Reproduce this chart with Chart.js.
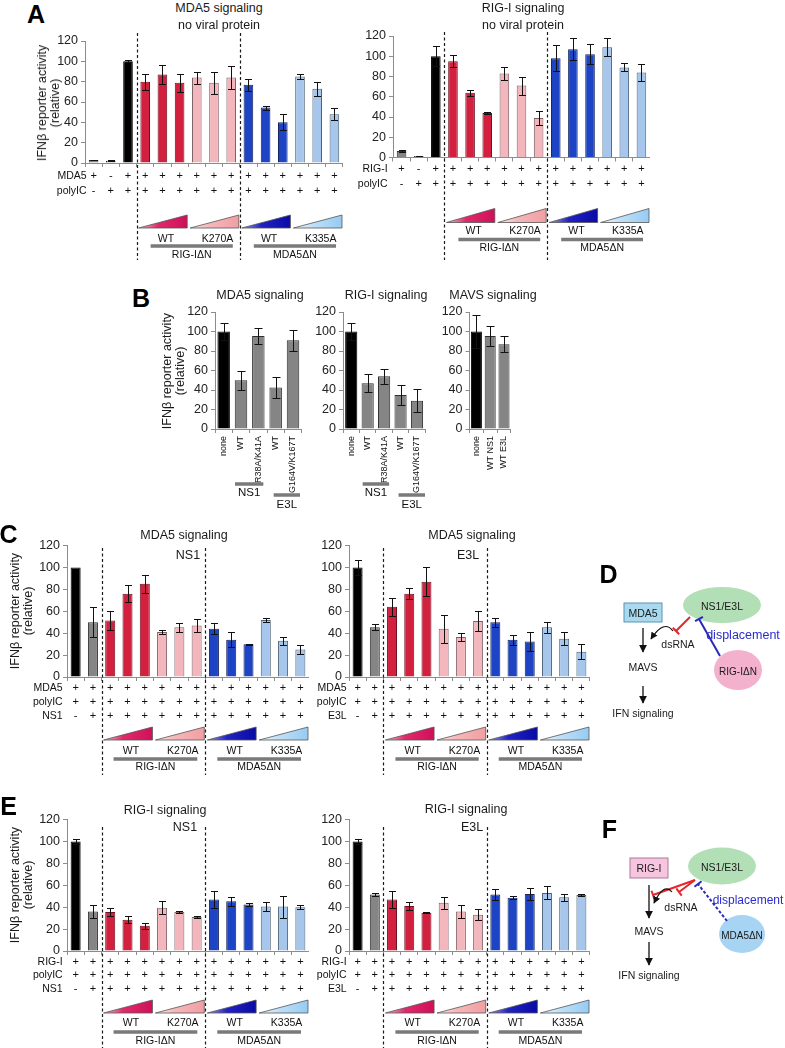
<!DOCTYPE html>
<html><head><meta charset="utf-8">
<script src="https://cdn.jsdelivr.net/npm/chart.js@4.4.1/dist/chart.umd.min.js"></script>
<style>
html,body{margin:0;padding:0;background:#fff;}
#fig{position:relative;width:785px;height:1048px;overflow:hidden;font-family:'Liberation Sans',Arial,sans-serif;color:#1a1a1a;}
#fig canvas{position:absolute;}
.tx{position:absolute;white-space:nowrap;transform:translate(-50%,-50%);line-height:1;font-size:12.5px;}
.yt{position:absolute;white-space:nowrap;transform:translate(-50%,-50%) rotate(-90deg);text-align:center;font-size:12.5px;line-height:13px;}
.pl{font-weight:bold;font-size:25px;color:#000;}
</style></head><body><div id="fig"></div>
<script>
// ---------------- DATA ----------------
const yTickValues = [0, 20, 40, 60, 80, 100, 120];

// Panel A, MDA5 signaling, no viral protein
const A1_rowNames = ['MDA5', 'polyIC'];
const A1_MDA5   = ['+','-','+','+','+','+','+','+','+','+','+','+','+','+','+'];
const A1_polyIC = ['-','+','+','+','+','+','+','+','+','+','+','+','+','+','+'];
const A1_values = [3, 2.3, 100, 80, 87, 79, 84, 79, 84, 77, 54.5, 40, 85, 73, 48];
const A1_errors = [0.4, 0.4, 1, 8, 9, 9, 6, 11, 11, 6, 2, 8, 2.5, 7, 6];

// Panel A, RIG-I signaling, no viral protein
const A2_rowNames = ['RIG-I', 'polyIC'];
const A2_RIGI   = ['+','-','+','+','+','+','+','+','+','+','+','+','+','+','+'];
const A2_polyIC = ['-','+','+','+','+','+','+','+','+','+','+','+','+','+','+'];
const A2_values = [6.5, 1.5, 100, 95, 64, 44, 83, 71, 39, 98, 107, 102, 109, 89, 84];
const A2_errors = [1, 0.3, 10, 6, 3, 1, 6, 9, 7, 13, 11, 10, 9, 4, 8];

// Panel B
const B1_categories = ['none', 'WT', 'R38A/K41A', 'WT', 'G164V/K167T'];
const B1_values = [100, 50, 95.5, 42.5, 91];
const B1_errors = [9, 10, 8.5, 11, 11];
const B2_categories = ['none', 'WT', 'R38A/K41A', 'WT', 'G164V/K167T'];
const B2_values = [100, 47, 54, 35, 29];
const B2_errors = [9, 9.5, 8, 10, 12];
const B3_categories = ['none', 'WT NS1', 'WT E3L'];
const B3_values = [100, 95.5, 87];
const B3_errors = [16.5, 10.5, 8];

// Panel C, MDA5 signaling + NS1
const C1_rowNames = ['MDA5', 'polyIC', 'NS1'];
const C1_MDA5   = ['+','+','+','+','+','+','+','+','+','+','+','+','+','+'];
const C1_polyIC = ['+','+','+','+','+','+','+','+','+','+','+','+','+','+'];
const C1_NS1    = ['-','+','+','+','+','+','+','+','+','+','+','+','+','+'];
const C1_values = [100, 50, 51.5, 76, 85, 41, 45.5, 47, 44, 34, 30, 52, 33, 25];
const C1_errors = [0, 13.5, 8.5, 8, 8, 2, 4, 6, 5, 7, 0.5, 1.5, 3.5, 4];

// Panel C, MDA5 signaling + E3L
const C2_rowNames = ['MDA5', 'polyIC', 'E3L'];
const C2_MDA5   = ['+','+','+','+','+','+','+','+','+','+','+','+','+','+'];
const C2_polyIC = ['+','+','+','+','+','+','+','+','+','+','+','+','+','+'];
const C2_E3L    = ['-','+','+','+','+','+','+','+','+','+','+','+','+','+'];
const C2_values = [100, 45.5, 64, 76, 87, 44, 36.5, 51, 50, 34, 32.5, 45.5, 35, 23];
const C2_errors = [7, 3, 8, 5, 13, 13, 4, 9, 4, 4.5, 9, 5, 6, 7];

// Panel E, RIG-I signaling + NS1
const E1_rowNames = ['RIG-I', 'polyIC', 'NS1'];
const E1_RIGI   = ['+','+','+','+','+','+','+','+','+','+','+','+','+','+'];
const E1_polyIC = ['+','+','+','+','+','+','+','+','+','+','+','+','+','+'];
const E1_NS1    = ['-','+','+','+','+','+','+','+','+','+','+','+','+','+'];
const E1_values = [100, 36, 35.5, 28.5, 23, 39.5, 35.5, 31, 47, 45.5, 42.5, 40.5, 40.5, 40];
const E1_errors = [2, 6, 4, 3, 3, 6, 1, 0.5, 8, 4, 1.5, 4, 10, 2];

// Panel E, RIG-I signaling + E3L
const E2_rowNames = ['RIG-I', 'polyIC', 'E3L'];
const E2_RIGI   = ['+','+','+','+','+','+','+','+','+','+','+','+','+','+'];
const E2_polyIC = ['+','+','+','+','+','+','+','+','+','+','+','+','+','+'];
const E2_E3L    = ['-','+','+','+','+','+','+','+','+','+','+','+','+','+'];
const E2_values = [100, 51.5, 47, 41, 35, 44, 36, 33, 51.5, 48.5, 52, 53, 49, 51];
const E2_errors = [2, 1, 7.5, 4, 0.5, 5.5, 6, 5, 5, 1.5, 5.5, 6, 3, 0.6];

// group labels under the titration panels
const groupSub = ['WT', 'K270A', 'WT', 'K335A'];
const groupBig = ['RIG-I\u0394N', 'MDA5\u0394N'];

// ---------------- STYLE ----------------
const FONT = "'Liberation Sans', Arial, sans-serif";
Chart.defaults.font.family = FONT;
const AXIS = '#8c8c8c';
const FILL = {gray:'#858585', black:'#000000', red:'#d3203f', pink:'#f4b6bd', blue:'#1c44c4', lblue:'#a6c6ec'};
const EDGE = {gray:'#2e2e2e', black:'#000000', red:'#6e1222', pink:'#7d6266', blue:'#14245e', lblue:'#4d6177'};
const TRI = {
  red:  ['#f6b9cb', '#e02a6a', '#d0105a'],
  pink: ['#fde6e6', '#f6b7b9', '#f19ea2'],
  blue: ['#9a9ae6', '#2222c4', '#0a0aa6'],
  lblue:['#eef7fe', '#bfe0f8', '#96cbf3']
};
const seqA = ['gray','gray','black','red','red','red','pink','pink','pink','blue','blue','blue','lblue','lblue','lblue'];
const seqC = ['black','gray','red','red','red','pink','pink','pink','blue','blue','blue','lblue','lblue','lblue'];
const zip = rows => rows[0].map((_, i) => rows.map(r => r[i]));

const fig = document.getElementById('fig');

function txt(x, y, s, size, extra) {
  const d = document.createElement('div');
  d.className = 'tx' + (extra ? ' ' + extra : '');
  d.style.left = x + 'px'; d.style.top = y + 'px';
  if (size) d.style.fontSize = size + 'px';
  d.textContent = s;
  fig.appendChild(d);
}
function ytitle(x, y) {
  const d = document.createElement('div');
  d.className = 'yt';
  d.style.left = x + 'px'; d.style.top = y + 'px';
  d.innerHTML = 'IFN\u03b2 reporter activity<br>(relative)';
  fig.appendChild(d);
}

function makeChart(o) {
  const cv = document.createElement('canvas');
  cv.width = o.w; cv.height = o.h;
  cv.style.left = o.x + 'px'; cv.style.top = o.y + 'px';
  cv.style.width = o.w + 'px'; cv.style.height = o.h + 'px';
  fig.appendChild(cv);
  const n = o.values.length;
  const deco = {
    id: 'deco',
    afterDatasetsDraw(ch) {
      const ctx = ch.ctx, ys = ch.scales.y, meta = ch.getDatasetMeta(0);
      ctx.save(); ctx.strokeStyle = '#111'; ctx.lineWidth = 1;
      o.errors.forEach((e, i) => {
        if (!e) return;
        const x = Math.round(meta.data[i].x) + 0.5, v = o.values[i];
        const t = Math.round(ys.getPixelForValue(v + e)) + 0.5, b = Math.round(ys.getPixelForValue(v - e)) + 0.5;
        ctx.beginPath();
        ctx.moveTo(x, t); ctx.lineTo(x, b);
        ctx.moveTo(x - o.cap, t); ctx.lineTo(x + o.cap, t);
        ctx.moveTo(x - o.cap, b); ctx.lineTo(x + o.cap, b);
        ctx.stroke();
      });
      ctx.restore();
    },
    afterDraw(ch) {
      const ctx = ch.ctx, xs = ch.scales.x, B = ch.chartArea.bottom;
      const cw = (xs.right - xs.left) / n;
      const cx = i => xs.getPixelForValue(i);
      const eL = i => cx(i) - cw / 2, eR = i => cx(i) + cw / 2;
      ctx.save();
      ctx.fillStyle = '#111'; ctx.textBaseline = 'middle';
      if (o.rowNames) {
        ctx.font = '10.5px ' + FONT; ctx.textAlign = 'right';
        o.rowNames.forEach((nm, k) => ctx.fillText(nm, cx(0) - o.nameGap, B + 4 + o.tpad + o.lh * (k + 0.5)));
      }
      if (o.dashAfter) {
        ctx.save(); ctx.strokeStyle = '#1a1a1a'; ctx.lineWidth = 1.2; ctx.setLineDash([3, 2.5]);
        o.dashAfter.forEach(i => {
          const x = Math.round(eR(i)) + 0.5;
          ctx.beginPath(); ctx.moveTo(x, o.dashTop); ctx.lineTo(x, ch.height); ctx.stroke();
        });
        ctx.restore();
      }
      if (o.tris) {
        o.tris.forEach((t, k) => {
          const x1 = eL(t.from) + 2, x2 = eR(t.to) - 1, yt = B + o.triT, yb = B + o.triB;
          const g = ctx.createLinearGradient(x1, 0, x2, 0);
          const c = TRI[t.c];
          g.addColorStop(0, c[0]); g.addColorStop(0.4, c[1]); g.addColorStop(1, c[2]);
          ctx.beginPath(); ctx.moveTo(x1, yb); ctx.lineTo(x2, yt); ctx.lineTo(x2, yb); ctx.closePath();
          ctx.fillStyle = g; ctx.fill();
          ctx.strokeStyle = '#555'; ctx.lineWidth = 0.8; ctx.stroke();
          ctx.fillStyle = '#111'; ctx.font = '10.5px ' + FONT; ctx.textAlign = 'center';
          ctx.fillText(groupSub[k], (x1 + x2) / 2 + 3, B + o.subY);
        });
      }
      if (o.bigs) {
        o.bigs.forEach((g, k) => {
          const x1 = eL(g.from) + o.barL, x2 = eR(g.to) - o.barR;
          ctx.fillStyle = '#7a7a7a'; ctx.fillRect(x1, B + o.barY - 1.75, x2 - x1, 3.5);
          ctx.fillStyle = '#111'; ctx.font = '10.5px ' + FONT; ctx.textAlign = 'center';
          ctx.fillText(groupBig[k], (x1 + x2) / 2, B + o.bigY);
        });
      }
      if (o.subBars) {
        o.subBars.forEach(g => {
          const x1 = cx(g.from) + g.l, x2 = cx(g.to) + g.r;
          ctx.fillStyle = '#7a7a7a'; ctx.fillRect(x1, B + g.bar - 1.75, x2 - x1, 3.5);
          ctx.fillStyle = '#111'; ctx.font = '11.5px ' + FONT; ctx.textAlign = 'center';
          ctx.fillText(g.t, (x1 + x2) / 2, B + g.ty);
        });
      }
      ctx.restore();
    }
  };
  new Chart(cv, {
    type: 'bar',
    data: {
      labels: o.labels,
      datasets: [{
        data: o.values,
        backgroundColor: o.seq.map(k => FILL[k]),
        borderColor: o.seq.map(k => EDGE[k]),
        borderWidth: 1,
        barPercentage: o.bp,
        categoryPercentage: 1
      }]
    },
    options: {
      responsive: false, maintainAspectRatio: false, animation: false, devicePixelRatio: 1, events: [],
      layout: {padding: {top: o.padTop, left: 0, right: 0, bottom: 0}},
      plugins: {legend: {display: false}, tooltip: {enabled: false}},
      scales: {
        x: {
          offset: true,
          grid: {display: true, drawOnChartArea: false, drawTicks: true, tickLength: 4, color: AXIS, offset: true},
          border: {display: true, color: AXIS, width: 1},
          ticks: {autoSkip: false, minRotation: o.rot, maxRotation: o.rot, padding: o.tpad, color: '#111',
                  font: {size: o.fs, lineHeight: o.lh + 'px'}},
          afterFit: s => { s.height = o.xh; }
        },
        y: {
          min: yTickValues[0], max: yTickValues[yTickValues.length - 1],
          afterBuildTicks: s => { s.ticks = yTickValues.map(v => ({value: v})); },
          grid: {display: true, drawOnChartArea: false, tickLength: 4, color: AXIS},
          border: {display: true, color: AXIS, width: 1},
          ticks: {padding: 3, color: '#222', font: {size: 12.5}},
          afterFit: s => { s.width = o.yw; }
        }
      }
    },
    plugins: [deco]
  });
}

const trisA = [{from:3,to:5,c:'red'},{from:6,to:8,c:'pink'},{from:9,to:11,c:'blue'},{from:12,to:14,c:'lblue'}];
const bigsA = [{from:3,to:8},{from:9,to:14}];
const trisC = [{from:2,to:4,c:'red'},{from:5,to:7,c:'pink'},{from:8,to:10,c:'blue'},{from:11,to:13,c:'lblue'}];
const bigsC = [{from:2,to:7},{from:8,to:13}];

// Panel A
makeChart({x:0, y:30, w:343, h:230, yw:85, padTop:11, xh:97, labels:zip([A1_MDA5, A1_polyIC]), values:A1_values, errors:A1_errors,
  seq:seqA, bp:0.56, rot:0, fs:11, lh:15, tpad:1.5, rowNames:A1_rowNames, nameGap:7, cap:3.5,
  dashAfter:[2,8], dashTop:3, tris:trisA, triT:52, triB:65, subY:76, bigs:bigsA, barL:14, barR:7, barY:83, bigY:92});
makeChart({x:350, y:25, w:300, h:235, yw:43, padTop:11, xh:102.5, labels:zip([A2_RIGI, A2_polyIC]), values:A2_values, errors:A2_errors,
  seq:seqA, bp:0.56, rot:0, fs:11, lh:15, tpad:0, rowNames:A2_rowNames, nameGap:14, cap:3.5,
  dashAfter:[2,8], dashTop:7, tris:trisA, triT:51, triB:65, subY:74, bigs:bigsA, barL:14, barR:7, barY:82, bigY:91});

// Panel B
makeChart({x:170, y:300, w:137, h:215, yw:45, padTop:12, xh:86, labels:B1_categories, values:B1_values, errors:B1_errors,
  seq:['black','gray','gray','gray','gray'], bp:0.72, rot:90, fs:9, lh:11, tpad:3, cap:4,
  subBars:[{from:1,to:2,l:-6,r:5,bar:55,ty:64,t:'NS1'},{from:3,to:4,l:-2,r:7,bar:66,ty:76,t:'E3L'}]});
makeChart({x:310, y:300, w:121, h:215, yw:33, padTop:12, xh:86, labels:B2_categories, values:B2_values, errors:B2_errors,
  seq:['black','gray','gray','gray','gray'], bp:0.74, rot:90, fs:9, lh:11, tpad:3, cap:4,
  subBars:[{from:1,to:2,l:-5,r:5,bar:55,ty:64,t:'NS1'},{from:3,to:4,l:-2,r:8,bar:66,ty:76,t:'E3L'}]});
makeChart({x:435, y:300, w:83, h:215, yw:34.5, padTop:12, xh:86, labels:B3_categories, values:B3_values, errors:B3_errors,
  seq:['black','gray','gray'], bp:0.8, rot:90, fs:9, lh:11, tpad:3, cap:4});

// Panel C
makeChart({x:0, y:535, w:309, h:240, yw:67, padTop:10, xh:98, labels:zip([C1_MDA5, C1_polyIC, C1_NS1]), values:C1_values, errors:C1_errors,
  seq:seqC, bp:0.58, rot:0, fs:11, lh:14, tpad:0, rowNames:C1_rowNames, nameGap:13, cap:3.5,
  dashAfter:[1,7], dashTop:13, tris:trisC, triT:50, triB:63, subY:74, bigs:bigsC, barL:12, barR:8, barY:82, bigY:90});
makeChart({x:300, y:535, w:290, h:240, yw:49, padTop:10, xh:98, labels:zip([C2_MDA5, C2_polyIC, C2_E3L]), values:C2_values, errors:C2_errors,
  seq:seqC, bp:0.58, rot:0, fs:11, lh:14, tpad:0, rowNames:C2_rowNames, nameGap:11, cap:3.5,
  dashAfter:[1,7], dashTop:13, tris:trisC, triT:50, triB:63, subY:74, bigs:bigsC, barL:12, barR:8, barY:82, bigY:90});

// Panel E
makeChart({x:0, y:809, w:309, h:239, yw:67, padTop:10, xh:97, labels:zip([E1_RIGI, E1_polyIC, E1_NS1]), values:E1_values, errors:E1_errors,
  seq:seqC, bp:0.58, rot:0, fs:11, lh:13.5, tpad:0, rowNames:E1_rowNames, nameGap:13, cap:3.5,
  dashAfter:[1,7], dashTop:18, tris:trisC, triT:49, triB:62, subY:72, bigs:bigsC, barL:12, barR:8, barY:81, bigY:90});
makeChart({x:300, y:809, w:290, h:239, yw:49, padTop:10, xh:97, labels:zip([E2_RIGI, E2_polyIC, E2_E3L]), values:E2_values, errors:E2_errors,
  seq:seqC, bp:0.58, rot:0, fs:11, lh:13.5, tpad:0, rowNames:E2_rowNames, nameGap:11, cap:3.5,
  dashAfter:[1,7], dashTop:18, tris:trisC, triT:49, triB:62, subY:72, bigs:bigsC, barL:12, barR:8, barY:81, bigY:90});

// Titles, letters, axis titles
txt(36, 13.5, 'A', 25, 'pl'); txt(141, 297.5, 'B', 25, 'pl'); txt(8.5, 534, 'C', 25, 'pl');
txt(608.5, 574, 'D', 25, 'pl'); txt(8.5, 806, 'E', 25, 'pl'); txt(609.5, 828.5, 'F', 25, 'pl');
txt(219, 8, 'MDA5 signaling'); txt(219, 25, 'no viral protein');
txt(523, 8, 'RIG-I signaling'); txt(523, 25, 'no viral protein');
txt(260, 295, 'MDA5 signaling'); txt(386, 295, 'RIG-I signaling'); txt(493, 295, 'MAVS signaling');
txt(184, 535, 'MDA5 signaling'); txt(188, 555, 'NS1');
txt(472, 535, 'MDA5 signaling'); txt(468, 555, 'E3L');
txt(165, 810, 'RIG-I signaling'); txt(185, 827, 'NS1');
txt(466, 809, 'RIG-I signaling'); txt(472, 827, 'E3L');
ytitle(49, 103); ytitle(174, 371); ytitle(22, 611); ytitle(22, 885);

// Diagrams D and F
function tee(x1, y1, x2, y2, col, dash) {
  const dx = x2 - x1, dy = y2 - y1, L = Math.hypot(dx, dy), px = -dy / L * 4.5, py = dx / L * 4.5;
  return `<line x1="${x1}" y1="${y1}" x2="${x2}" y2="${y2}" stroke="${col}" stroke-width="2" ${dash ? 'stroke-dasharray="3,2"' : ''}/>` +
         `<line x1="${x2 + px}" y1="${y2 + py}" x2="${x2 - px}" y2="${y2 - py}" stroke="${col}" stroke-width="2"/>`;
}
function st(x, y, s, size, col) {
  return `<text x="${x}" y="${y}" font-size="${size || 10.5}" fill="${col || '#1a1a1a'}" text-anchor="middle" dominant-baseline="central" font-family="${FONT.replace(/"/g, '')}">${s}</text>`;
}
function arr(x1, y1, x2, y2) {
  return `<line x1="${x1}" y1="${y1}" x2="${x2}" y2="${y2}" stroke="#111" stroke-width="1.3" marker-end="url(#ah)"/>`;
}
let s = '<svg xmlns="http://www.w3.org/2000/svg" width="785" height="1048" style="position:absolute;left:0;top:0">';
s += '<defs><marker id="ah" viewBox="0 0 10 10" refX="9" refY="5" markerWidth="6" markerHeight="6" orient="auto"><path d="M0,0 L10,5 L0,10 z" fill="#111"/></marker></defs>';
// D
s += '<rect x="624" y="603" width="38" height="19" fill="#a9d9ef" stroke="#5b93b5" stroke-width="1"/>' + st(643, 612.5, 'MDA5');
s += '<ellipse cx="722" cy="605" rx="39" ry="18" fill="#b3dfb6"/>' + st(722, 605.5, 'NS1/E3L');
s += '<ellipse cx="738" cy="670" rx="24" ry="20" fill="#f3b1cd"/>' + st(738, 671, 'RIG-I\u0394N', 10);
s += arr(643, 628, 643, 652) + st(643, 667, 'MAVS') + arr(643, 686, 643, 703) + st(643, 713, 'IFN signaling');
s += st(678, 644, 'dsRNA');
s += '<path d="M673,631 Q664,619 651,639" fill="none" stroke="#111" stroke-width="1.2" marker-end="url(#ah)"/>';
s += tee(690, 617, 676, 631, '#e3262b');
s += tee(720, 656, 699, 619, '#2a2ab8');
s += st(743, 635, 'displacement', 12.5, '#2b2bd0');
// F
s += '<rect x="630" y="858" width="38" height="20" fill="#f7c5df" stroke="#a97b93" stroke-width="1"/>' + st(649, 868, 'RIG-I');
s += '<ellipse cx="722" cy="866" rx="34" ry="18.5" fill="#b3dfb6"/>' + st(722, 866.5, 'NS1/E3L');
s += '<ellipse cx="742" cy="934" rx="23" ry="19" fill="#a7d4f2"/>' + st(742, 935, 'MDA5\u0394N', 10);
s += arr(649, 885, 649, 918);
s += tee(695, 880, 653, 895, '#e3262b');
s += tee(695, 880, 679, 892, '#e3262b');
s += '<path d="M672,892 Q664,882 654,903" fill="none" stroke="#111" stroke-width="1.2" marker-end="url(#ah)"/>';
s += st(681, 907, 'dsRNA');
s += tee(727, 921, 698, 884, '#2a2ab8', true);
s += st(748, 900, 'displacement', 12, '#2b2bd0');
s += st(649, 931, 'MAVS') + arr(649, 942, 649, 965) + st(649, 975, 'IFN signaling');
s += '</svg>';
fig.insertAdjacentHTML('beforeend', s);
</script></body></html>
